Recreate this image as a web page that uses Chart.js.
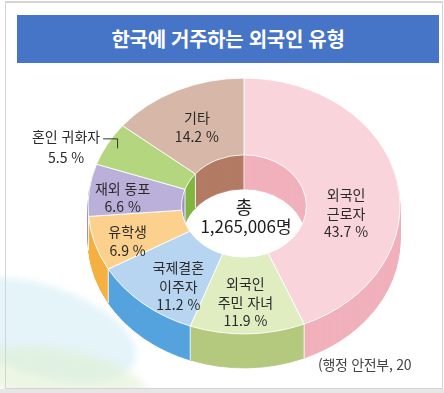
<!DOCTYPE html>
<html lang="ko">
<head>
<meta charset="utf-8">
<title>한국에 거주하는 외국인 유형</title>
<script src="https://cdn.jsdelivr.net/npm/chart.js@4.4.1/dist/chart.umd.min.js"></script>
<style>
  html, body { margin: 0; padding: 0; background: #fff; }
  body {
    width: 444px; height: 393px; position: relative; overflow: hidden;
    font-family: "Noto Sans CJK KR", "Noto Sans", sans-serif;
  }
  .frame {
    position: absolute; left: 5px; top: 1px; width: 436px; height: 385px;
    border: 1px solid #d4d4d4; border-top-width: 2px;
  }
  .foot { position: absolute; left: 0; top: 389px; width: 444px; height: 4px; background: #e6e6e6; }
  .swirl1 {
    position: absolute; left: -60px; top: 285px; width: 200px; height: 90px;
    border-radius: 50%; background: rgba(196, 230, 242, 0.45);
    transform: rotate(18deg); filter: blur(3px);
  }
  .swirl2 {
    position: absolute; left: -20px; top: 350px; width: 170px; height: 60px;
    border-radius: 50%; background: rgba(222, 238, 205, 0.55);
    transform: rotate(12deg); filter: blur(4px);
  }
  .title {
    position: absolute; left: 17px; top: 15px; width: 422px; height: 48px;
    background: #4674c6; color: #fff; font-weight: 700; font-size: 20px;
    line-height: 48px; text-align: center; letter-spacing: -0.3px;
  }
  .source {
    position: absolute; left: 318px; top: 354px; font-size: 14px; color: #444;
    white-space: nowrap; letter-spacing: -0.3px;
  }
  canvas { position: absolute; left: 0; top: 0; }
</style>
</head>
<body>
<div class="swirl1"></div>
<div class="swirl2"></div>
<div class="frame"></div>
<div class="foot"></div>
<div class="title">한국에 거주하는 외국인 유형</div>
<canvas id="typeChart" width="444" height="393"></canvas>
<div class="source">(행정 안전부, 20</div>

<script>
// foreign resident types (share of total, %)
const categories = [
    ['외국인', '근로자'],
    ['외국인', '주민 자녀'],
    ['국제결혼', '이주자'],
    ['유학생'],
    ['재외 동포'],
    ['혼인 귀화자'],
    ['기타']
];
const shares = [43.7, 11.9, 11.2, 6.9, 6.6, 5.5, 14.2];
const totalLabel = '1,265,006명';

const topColors = ['#f9d4db', '#e0edc0', '#b7d5f0', '#fbd18d', '#bbb0d9', '#b4d67f', '#d7b7a8'];
const sideColors = ['#f1b1bc', '#b5c97e', '#55a3de', '#f4b141', '#9d90c7', '#80b540', '#b37b64'];

// nudges from the middle of each slice to where its text sits
const labelNudge = [[-5, 25], [-1, 7], [5, 12], [-12, 9], [-13, 3], [0, 0], [0, 2]];
const outsideLabel = 5;

const depth = 34;
const squash = 0.82;
const lineGap = 18.5;

function tilt(ctx, x, y, dy) {
    ctx.translate(x, y + dy);
    ctx.scale(1, squash);
    ctx.translate(-x, -y);
}

const tiltPlugin = {
    id: 'tilt',
    beforeDatasetsDraw(chart) {
        const ctx = chart.ctx;
        const arcs = chart.getDatasetMeta(0).data;
        const { x, y } = arcs[0];

        // extruded body, stacked from the bottom up
        for (let d = depth; d >= 1; d--) {
            ctx.save();
            tilt(ctx, x, y, d);
            arcs.forEach((arc, i) => {
                const side = Object.create(arc);
                side.options = Object.assign({}, arc.options, {
                    backgroundColor: sideColors[i],
                    borderColor: sideColors[i]
                });
                side.draw(ctx);
            });
            ctx.restore();
        }

        // seams between slices on the outer side and inner wall
        ctx.save();
        ctx.strokeStyle = 'rgba(255,255,255,0.9)';
        ctx.lineWidth = 1;
        arcs.forEach(arc => {
            const a = arc.startAngle;
            const r = Math.sin(a) > 0 ? arc.outerRadius : arc.innerRadius;
            const px = x + r * Math.cos(a);
            const py = y + r * squash * Math.sin(a);
            ctx.beginPath();
            ctx.moveTo(px, py);
            ctx.lineTo(px, py + depth);
            ctx.stroke();
        });
        ctx.restore();

        // top face
        ctx.save();
        tilt(ctx, x, y, 0);
    },
    afterDatasetsDraw(chart) {
        const ctx = chart.ctx;
        ctx.restore();

        const arcs = chart.getDatasetMeta(0).data;
        const { x, y } = arcs[0];

        ctx.save();
        ctx.fillStyle = '#2a2a2a';
        ctx.textAlign = 'center';
        ctx.textBaseline = 'middle';
        ctx.font = '14px "Noto Sans CJK KR"';

        arcs.forEach((arc, i) => {
            const lines = categories[i].concat([shares[i] + ' %']);
            const mid = (arc.startAngle + arc.endAngle) / 2;
            if (i === outsideLabel) {
                const rr = arc.outerRadius * 0.93;
                const px = x + rr * Math.cos(mid);
                const py = y + rr * squash * Math.sin(mid);
                ctx.strokeStyle = '#333';
                ctx.lineWidth = 1;
                ctx.beginPath();
                ctx.moveTo(px + 0.5, py);
                ctx.lineTo(px + 0.5, py - 9.5);
                ctx.lineTo(px - 14, py - 9.5);
                ctx.stroke();
                const cx = px - 51;
                const top = py - 12;
                lines.forEach((t, k) => ctx.fillText(t, cx, top + k * 21));
                return;
            }
            const rm = (arc.innerRadius + arc.outerRadius) / 2;
            const cx = x + rm * Math.cos(mid) + labelNudge[i][0];
            const cy = y + rm * squash * Math.sin(mid) + labelNudge[i][1];
            const top = cy - (lines.length - 1) * lineGap / 2;
            lines.forEach((t, k) => ctx.fillText(t, cx, top + k * lineGap));
        });

        // total in the hole
        ctx.fillStyle = '#1e1e1e';
        ctx.font = '18px "Noto Sans CJK KR"';
        ctx.fillText('총', x, y + 1);
        ctx.font = '17px "Noto Sans CJK KR"';
        ctx.fillText(totalLabel, x + 2, y + 21);
        ctx.restore();
    }
};

new Chart(document.getElementById('typeChart'), {
    type: 'doughnut',
    data: {
        labels: categories.map(c => c.join(' ')),
        datasets: [{
            data: shares,
            backgroundColor: topColors,
            borderColor: '#ffffff',
            borderWidth: 1,
            clip: false
        }]
    },
    options: {
        responsive: false,
        animation: false,
        events: [],
        radius: 156,
        cutout: '40%',
        layout: { padding: { left: 88, right: 44, top: 50, bottom: 31 } },
        plugins: {
            legend: { display: false },
            tooltip: { enabled: false }
        }
    },
    plugins: [tiltPlugin]
});
</script>
</body>
</html>
